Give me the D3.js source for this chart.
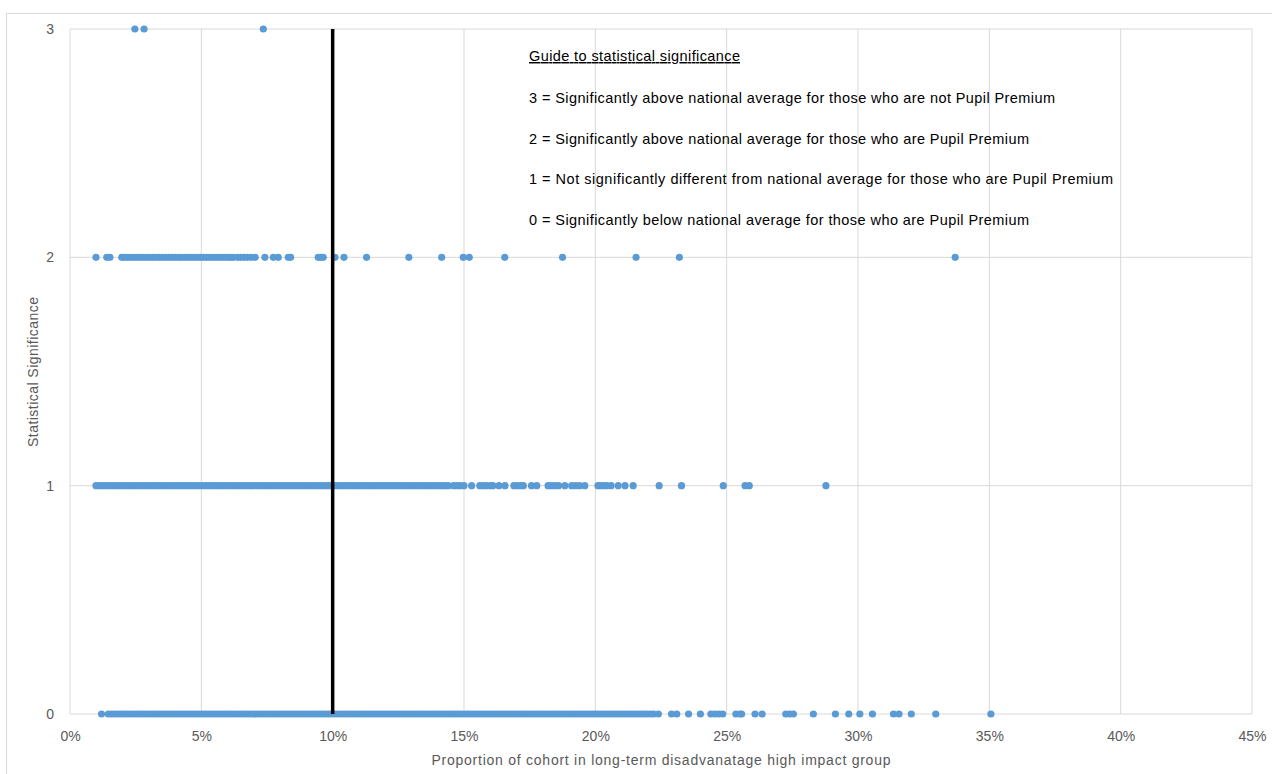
<!DOCTYPE html>
<html>
<head>
<meta charset="utf-8">
<script src="https://cdn.jsdelivr.net/npm/d3@7"></script>
<style>
  body { margin: 0; background: #fff; }
  svg { display: block; font-family: "Liberation Sans", Arial, sans-serif; }
</style>
</head>
<body>
<svg id="chart" width="1272" height="774"></svg>
<script>
// x = proportion of cohort (%), one array per significance level
var sig3 = [2.47, 2.82, 7.36];
var sig2 = [0.99, 1.4, 1.52, 1.97, 2.08, 2.2, 2.32, 2.44, 2.56, 2.68, 2.8, 2.92, 3.04, 3.16, 3.28, 3.4, 3.52, 3.64, 3.76, 3.88,
            4.0, 4.12, 4.24, 4.36, 4.48, 4.6, 4.72, 4.84, 4.96, 5.08, 5.2, 5.32, 5.44, 5.56, 5.68, 5.8, 5.92, 6.04, 6.14, 6.22,
            6.38, 6.5, 6.62, 6.75, 6.9, 7.05, 7.42, 7.74, 7.93, 8.31, 8.4, 9.45, 9.55, 9.64, 10.09, 10.43, 11.29, 12.9, 14.15,
            14.97, 15.2, 16.55, 18.75, 21.55, 23.2, 33.7];
var sig1 = [0.99, 1.1, 1.22, 1.34, 1.46, 1.58, 1.7, 1.82, 1.94, 2.06, 2.18, 2.3, 2.42, 2.54, 2.66, 2.78, 2.9, 3.02, 3.14, 3.26,
            3.38, 3.5, 3.62, 3.74, 3.86, 3.98, 4.1, 4.22, 4.34, 4.46, 4.58, 4.7, 4.82, 4.94, 5.06, 5.18, 5.3, 5.42, 5.54, 5.66,
            5.78, 5.9, 6.02, 6.14, 6.26, 6.38, 6.5, 6.62, 6.74, 6.86, 6.98, 7.1, 7.22, 7.34, 7.46, 7.58, 7.7, 7.82, 7.94, 8.06,
            8.18, 8.3, 8.42, 8.54, 8.66, 8.78, 8.9, 9.02, 9.14, 9.26, 9.38, 9.5, 9.62, 9.74, 9.86, 9.98, 10.1, 10.22, 10.34, 10.46,
            10.58, 10.7, 10.82, 10.94, 11.06, 11.18, 11.3, 11.42, 11.54, 11.66, 11.78, 11.9, 12.02, 12.14, 12.26, 12.38, 12.5,
            12.62, 12.74, 12.86, 12.98, 13.1, 13.22, 13.34, 13.46, 13.58, 13.7, 13.82, 13.94, 14.06, 14.18, 14.3, 14.4,
            14.6, 14.72, 14.85, 15.0, 15.29, 15.6, 15.72, 15.85, 16.0, 16.1, 16.33, 16.56, 16.9, 17.02, 17.15, 17.26, 17.57,
            17.77, 18.2, 18.32, 18.45, 18.6, 18.84, 19.1, 19.25, 19.4, 19.6, 20.1, 20.2, 20.32, 20.43, 20.6, 20.87, 21.13,
            21.44, 22.43, 23.28, 24.87, 25.7, 25.86, 28.78];
var sig0 = [1.2, 1.46, 1.58, 1.7, 1.82, 1.94, 2.06, 2.18, 2.3, 2.42, 2.54, 2.66, 2.78, 2.9, 3.02, 3.14, 3.26, 3.38, 3.5, 3.62,
            3.74, 3.86, 3.98, 4.1, 4.22, 4.34, 4.46, 4.58, 4.7, 4.82, 4.94, 5.06, 5.18, 5.3, 5.42, 5.54, 5.66, 5.78, 5.9, 6.02,
            6.14, 6.26, 6.38, 6.5, 6.62, 6.74, 6.86, 6.98, 7.1, 7.22, 7.34, 7.46, 7.58, 7.7, 7.82, 7.94, 8.06, 8.18, 8.3, 8.42,
            8.54, 8.66, 8.78, 8.9, 9.02, 9.14, 9.26, 9.38, 9.5, 9.62, 9.74, 9.86, 9.98, 10.1, 10.22, 10.34, 10.46, 10.58, 10.7,
            10.82, 10.94, 11.06, 11.18, 11.3, 11.42, 11.54, 11.66, 11.78, 11.9, 12.02, 12.14, 12.26, 12.38, 12.5, 12.62, 12.74,
            12.86, 12.98, 13.1, 13.22, 13.34, 13.46, 13.58, 13.7, 13.82, 13.94, 14.06, 14.18, 14.3, 14.42, 14.54, 14.66, 14.78,
            14.9, 15.02, 15.14, 15.26, 15.38, 15.5, 15.62, 15.74, 15.86, 15.98, 16.1, 16.22, 16.34, 16.46, 16.58, 16.7, 16.82,
            16.94, 17.06, 17.18, 17.3, 17.42, 17.54, 17.66, 17.78, 17.9, 18.02, 18.14, 18.26, 18.38, 18.5, 18.62, 18.74, 18.86,
            18.98, 19.1, 19.22, 19.34, 19.46, 19.58, 19.7, 19.82, 19.94, 20.06, 20.18, 20.3, 20.42, 20.54, 20.66, 20.78, 20.9,
            21.02, 21.14, 21.26, 21.38, 21.5, 21.62, 21.74, 21.86, 21.98, 22.1, 22.22, 22.4,
            22.9, 23.1, 23.55, 24.0, 24.4, 24.55, 24.7, 24.85, 25.35, 25.5, 25.57, 26.08, 26.35, 27.25, 27.4, 27.54, 28.3,
            29.14, 29.65, 30.07, 30.55, 31.35, 31.56, 32.03, 32.96, 35.06];
var xTicks = [0, 5, 10, 15, 20, 25, 30, 35, 40, 45];
var yTicks = [0, 1, 2, 3];
var cutoff = 10;
var guideTitle = "Guide to statistical significance";
var guideLines = [
  "3 = Significantly above national average for those who are not Pupil Premium",
  "2 = Significantly above national average for those who are Pupil Premium",
  "1 = Not significantly different from national average for those who are Pupil Premium",
  "0 = Significantly below national average for those who are Pupil Premium"
];
var guideWidths = [526, 500, 584, 500];

var svg = d3.select("#chart");
var x = d3.scaleLinear().domain([0, 45]).range([70, 1252]);
var y = d3.scaleLinear().domain([0, 3]).range([714, 29]);

// outer chart border
svg.append("rect").attr("x", 6.5).attr("y", 13.5).attr("width", 1280).attr("height", 780)
  .attr("fill", "none").attr("stroke", "#d9d9d9");

// gridlines
svg.append("g").selectAll("line").data(xTicks).join("line")
  .attr("x1", d => x(d)).attr("x2", d => x(d)).attr("y1", y(3)).attr("y2", y(0))
  .attr("stroke", "#d9d9d9").attr("stroke-width", 1);
svg.append("g").selectAll("line").data(yTicks).join("line")
  .attr("x1", x(0)).attr("x2", x(45)).attr("y1", d => y(d)).attr("y2", d => y(d))
  .attr("stroke", "#d9d9d9").attr("stroke-width", 1);

// axes (labels only)
var xAxis = svg.append("g").attr("transform", "translate(0," + y(0) + ")")
  .call(d3.axisBottom(x).tickValues(xTicks).tickFormat(d => d + "%").tickSize(0).tickPadding(17));
var yAxis = svg.append("g").attr("transform", "translate(" + x(0) + ",0)")
  .call(d3.axisLeft(y).tickValues(yTicks).tickFormat(d3.format("d")).tickSize(0).tickPadding(16));
[xAxis, yAxis].forEach(function(a) {
  a.select(".domain").remove();
  a.selectAll("text").attr("fill", "#595959").attr("font-size", 14)
    .attr("font-family", "'Liberation Sans', Arial, sans-serif");
});

svg.append("text").attr("x", 661).attr("y", 765).attr("text-anchor", "middle")
  .attr("font-size", 14).attr("fill", "#595959").attr("textLength", 459)
  .text("Proportion of cohort in long-term disadvanatage high impact group");
svg.append("text").attr("transform", "translate(38,372) rotate(-90)").attr("text-anchor", "middle")
  .attr("font-size", 14).attr("fill", "#595959").attr("textLength", 150)
  .text("Statistical Significance");

// dots
var rows = [[0, sig0], [1, sig1], [2, sig2], [3, sig3]];
rows.forEach(function(r) {
  svg.append("g").selectAll("circle").data(r[1]).join("circle")
    .attr("cx", d => x(d)).attr("cy", y(r[0])).attr("r", 3.6)
    .attr("fill", "#5b9bd5");
});

// 10% cut-off line
svg.append("line").attr("x1", x(cutoff)).attr("x2", x(cutoff)).attr("y1", y(3)).attr("y2", y(0))
  .attr("stroke", "#000").attr("stroke-width", 3.5);

// guide text
var guide = svg.append("g").attr("transform", "translate(529,0)");
guide.append("text").attr("y", 61).attr("font-size", 14.5).attr("text-decoration", "underline")
  .attr("textLength", 211).text(guideTitle);
guide.selectAll("text.line").data(guideLines).join("text").attr("class", "line")
  .attr("y", (d, i) => 103 + i * 40.7).attr("font-size", 14.5)
  .attr("textLength", (d, i) => guideWidths[i]).text(d => d);
</script>
</body>
</html>
